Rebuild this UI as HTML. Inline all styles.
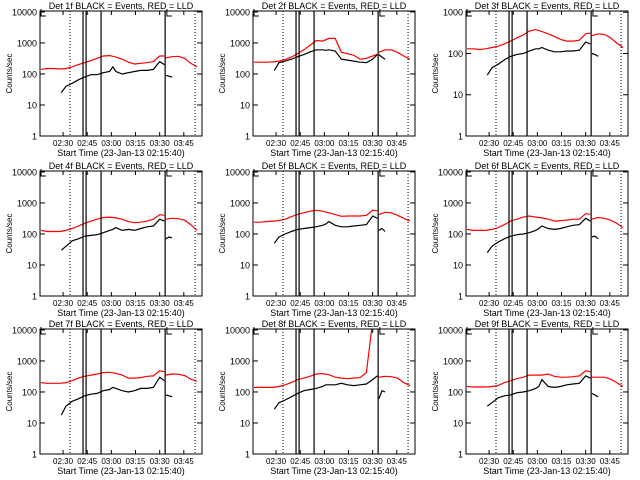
<!DOCTYPE html>
<html><head><meta charset="utf-8">
<style>
html,body{margin:0;padding:0;background:#fff;width:640px;height:480px;overflow:hidden}
svg{display:block}
text{font-family:"Liberation Sans",sans-serif;fill:#000}
</style></head>
<body>
<svg id="chart" width="640" height="480" viewBox="0 0 640 480" xmlns="http://www.w3.org/2000/svg"></svg>
<script>
// Time grids (minutes after 02:00)
const redTimes = [16.3,20.2,24.0,27.9,31.8,35.7,39.5,43.4,47.3,51.2,55.0,58.9,62.8,66.7,70.6,74.4,78.3,82.2,86.1,90.0,92.9];
const red2Times = [93.8,97.7,101.6,105.4,109.3,113.2];
const blackTimes = [28.9,31.8,35.7,39.5,43.4,47.3,51.2,55.0,58.9,60.9,62.8,66.7,70.6,74.4,78.3,82.2,86.1,90.0,92.9];
const black2Times = [93.8,95.8,97.7];
const xTickLabels = ["02:30","02:45","03:00","03:15","03:30","03:45"];
const xTickTimes = [30,45,60,75,90,105];
const solidLineTimes = [42.4,44.3,53.6,93.4];
const dottedLineTimes = [34.3,112];
const detNames = ["1f","2f","3f","4f","5f","6f","7f","8f","9f"];
const yMaxExp = [4,4,3,4,4,4,4,4,4];

const red1 = [[140,150,150,145,150,170,200,230,270,320,380,390,350,300,240,210,220,230,250,380,380],
 [240,240,240,245,260,290,350,450,600,850,1200,1150,1400,1400,500,450,400,300,320,380,430],
 [130,130,125,130,140,150,170,200,240,280,350,380,340,300,260,220,200,200,210,300,310],
 [130,120,120,120,130,150,180,220,260,300,340,350,330,300,250,230,240,260,300,420,400],
 [240,240,250,260,270,300,360,430,480,540,580,540,480,420,370,380,380,380,400,580,560],
 [140,130,130,130,140,160,200,260,300,350,380,350,330,300,260,270,280,300,300,450,430],
 [200,190,190,190,200,230,280,320,350,380,420,430,400,350,280,280,290,320,330,480,450],
 [140,140,140,140,150,170,200,250,280,320,380,390,360,300,280,270,280,290,420,20000,20000],
 [150,145,145,145,150,160,200,230,270,300,350,350,350,380,320,300,300,310,330,480,450]];
const red2 = [[330,360,370,320,220,170],[500,600,600,500,380,300],[270,300,290,240,180,140],
 [300,320,310,280,200,130],[420,500,480,400,320,260],[300,340,320,280,220,160],
 [350,380,370,340,260,220],[300,320,310,280,200,160],[300,300,300,260,200,150]];
const black1 = [[25,40,50,65,80,95,95,110,120,170,120,100,110,120,130,130,140,250,200],
 [130,230,260,300,360,420,520,600,600,580,600,550,300,280,260,240,230,300,420],
 [30,45,55,70,85,95,100,115,130,130,140,120,110,110,115,115,120,190,170],
 [30,40,60,70,85,90,95,110,130,140,160,130,140,130,150,170,180,300,260],
 [50,80,100,120,140,150,160,170,190,210,250,190,170,170,180,190,200,380,320],
 [25,40,55,70,85,95,100,110,130,150,180,150,140,150,170,190,200,320,260],
 [18,35,50,60,75,85,90,110,120,140,130,110,100,110,130,130,140,300,230],
 [28,45,55,70,90,110,120,130,150,170,170,170,190,170,160,170,180,250,330],
 [35,45,65,75,80,95,100,110,130,150,250,150,140,150,170,180,190,330,280]];
const black2 = [[90,85,80],[420,350,300],[100,95,85],[70,80,75],[130,150,120],[80,85,70],[80,75,70],[60,110,100],[90,80,70]];

const NS="http://www.w3.org/2000/svg";
const svg=document.getElementById('chart');
function mk(tag,attrs,parent){const e=document.createElementNS(NS,tag);for(const k in attrs)e.setAttribute(k,attrs[k]);(parent||svg).appendChild(e);return e;}
const colX=[0,213,426], rowY=[0,160,318];
const T0=15.67, T1=116.3;

for(let p=0;p<9;p++){
  const ox=colX[p%3], oy=rowY[Math.floor(p/3)];
  const L=ox+40, R=ox+202, T=oy+11, B=oy+136;
  const emax=yMaxExp[p];
  const xs=t=>L+(t-T0)*(R-L)/(T1-T0);
  const ys=v=>B-Math.log10(v)/(emax+0.03)*(B-T);
  const g=mk('g',{});
  
  
  const cp=mk('clipPath',{id:'cp'+p},g);
  mk('rect',{x:L,y:T,width:R-L,height:B-T},cp);
  const data=mk('g',{'clip-path':'url(#cp'+p+')'},g);
  function line(times,vals,color,name){
    let d='';
    for(let i=0;i<times.length;i++){d+=(i?'L':'M')+xs(times[i]).toFixed(1)+','+ys(vals[i]).toFixed(1);}
    const e=mk('path',{d:d,fill:'none',stroke:color,'stroke-width':1.2},data);
    
    
  }
  line(redTimes,red1[p],'#ff0000','red-lld-series');
  line(red2Times,red2[p],'#ff0000','red-lld-series-2');
  line(blackTimes,black1[p],'#000','black-events-series');
  line(black2Times,black2[p],'#000','black-events-series-2');
  solidLineTimes.forEach(t=>{
    const e=mk('line',{x1:xs(t),x2:xs(t),y1:T,y2:B,stroke:'#000','stroke-width':1.2},g);
    
    
  });
  dottedLineTimes.forEach(t=>{
    const e=mk('line',{x1:xs(t),x2:xs(t),y1:T,y2:B,stroke:'#000','stroke-width':1,'stroke-dasharray':'1,2'},g);
    
    
  });
  [T0+0.6,94.5].forEach(t=>{
    mk('path',{d:`M${xs(t)},${T-2}V${T+5}H${xs(t)+5}`,fill:'none',stroke:'#000'},g);
  });
  const box=mk('rect',{x:L,y:T,width:R-L,height:B-T,fill:'none',stroke:'#000','stroke-width':1},g);
  
  
  for(let e=0;e<=emax;e++){
    const y=ys(Math.pow(10,e));
    mk('line',{x1:L,x2:L+5,y1:y,y2:y,stroke:'#000'},g);
    mk('line',{x1:R-5,x2:R,y1:y,y2:y,stroke:'#000'},g);
    const tl=mk('text',{x:L-3,y:y+3.5,'text-anchor':'end','font-size':9},g);
    tl.textContent=String(Math.pow(10,e));
    
    
  }
  xTickTimes.forEach((t,i)=>{
    const x=xs(t);
    mk('line',{x1:x,x2:x,y1:B,y2:B-4,stroke:'#000'},g);
    mk('line',{x1:x,x2:x,y1:T,y2:T+4,stroke:'#000'},g);
    const tl=mk('text',{x:x,y:B+10,'text-anchor':'middle','font-size':8},g);
    tl.textContent=xTickLabels[i];
    
    
  });
  const title=mk('text',{x:(L+R)/2,y:oy+9,'text-anchor':'middle','font-size':9},g);
  title.textContent='Det '+detNames[p]+' BLACK = Events, RED = LLD';
  
  
  const xt=mk('text',{x:(L+R)/2,y:B+20,'text-anchor':'middle','font-size':9},g);
  xt.textContent='Start Time (23-Jan-13 02:15:40)';
  
  
  const yt=mk('text',{x:0,y:0,'text-anchor':'middle','font-size':8,transform:`translate(${ox+12},${(T+B)/2}) rotate(-90)`},g);
  yt.textContent='Counts/sec';
  
  
}
</script>
</body></html>
